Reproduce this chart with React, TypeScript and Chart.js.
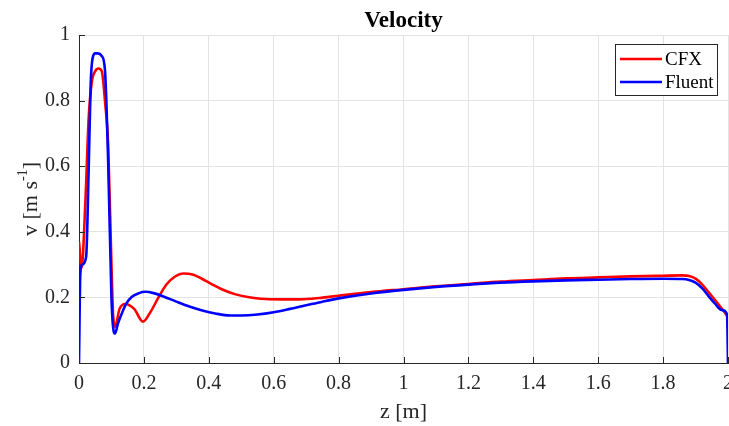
import React, { useEffect, useRef } from "react";
import { Chart, registerables } from "chart.js";

Chart.register(...registerables);

const TITLE = "Velocity";
const X_LABEL = "z [m]";
const Y_LABEL_MAIN = "v [m s";
const Y_LABEL_SUP = "-1";
const Y_LABEL_END = "]";

const X_TICKS = [0, 0.2, 0.4, 0.6, 0.8, 1, 1.2, 1.4, 1.6, 1.8, 2];
const Y_TICKS = [0, 0.2, 0.4, 0.6, 0.8, 1];

const CFX_LABEL = "CFX";
const CFX_Z = [0, 0.008, 0.02, 0.03, 0.04, 0.05, 0.06, 0.07, 0.08, 0.09, 0.1, 0.105, 0.111, 0.125, 0.142, 0.17, 0.197, 0.22, 0.245, 0.27, 0.295, 0.322, 0.35, 0.38, 0.41, 0.44, 0.48, 0.52, 0.56, 0.62, 0.68, 0.74, 0.8, 0.9, 1.0, 1.1, 1.2, 1.3, 1.4, 1.5, 1.6, 1.7, 1.8, 1.86, 1.88, 1.9, 1.92, 1.94, 1.96, 1.98, 1.993, 2.0];
const CFX_V = [0.37, 0.29, 0.5, 0.75, 0.86, 0.89, 0.898, 0.89, 0.8, 0.66, 0.3, 0.15, 0.11, 0.165, 0.18, 0.165, 0.126, 0.155, 0.2, 0.24, 0.263, 0.273, 0.27, 0.256, 0.24, 0.225, 0.21, 0.201, 0.196, 0.194, 0.194, 0.198, 0.205, 0.216, 0.225, 0.234, 0.241, 0.248, 0.253, 0.258, 0.261, 0.264, 0.266, 0.267, 0.265, 0.257, 0.24, 0.216, 0.192, 0.167, 0.15, 0.138];

const FLUENT_LABEL = "Fluent";
const FLUENT_Z = [0, 0.004, 0.01, 0.022, 0.03, 0.036, 0.042, 0.05, 0.058, 0.07, 0.08, 0.09, 0.1, 0.105, 0.111, 0.12, 0.132, 0.145, 0.163, 0.185, 0.204, 0.23, 0.26, 0.3, 0.34, 0.38, 0.42, 0.466, 0.5, 0.55, 0.6, 0.65, 0.7, 0.75, 0.8, 0.9, 1.0, 1.1, 1.2, 1.3, 1.4, 1.5, 1.6, 1.7, 1.8, 1.86, 1.88, 1.9, 1.92, 1.94, 1.96, 1.98, 1.997, 2.0];
const FLUENT_V = [0, 0.27, 0.3, 0.324, 0.6, 0.85, 0.93, 0.944, 0.944, 0.936, 0.893, 0.61, 0.2, 0.11, 0.09, 0.12, 0.151, 0.18, 0.202, 0.213, 0.217, 0.213, 0.203, 0.187, 0.172, 0.16, 0.151, 0.145, 0.145, 0.148, 0.155, 0.165, 0.176, 0.187, 0.197, 0.212, 0.223, 0.232, 0.239, 0.245, 0.249, 0.252, 0.254, 0.256, 0.257, 0.256, 0.253, 0.245, 0.228, 0.204, 0.181, 0.162, 0.149, 0];

const FONT = "'Liberation Serif', 'Times New Roman', serif";
const AXIS_COLOR = "#262626";
const GRID_COLOR = "#e3e3e3";

const decorPlugin = {
  id: "decor",
  afterDraw(chart: any) {
    const ctx = chart.ctx;
    const area = chart.chartArea;
    const xs = chart.scales.x;
    const ys = chart.scales.y;
    ctx.save();
    // inward ticks
    ctx.strokeStyle = AXIS_COLOR;
    ctx.lineWidth = 1;
    ctx.beginPath();
    X_TICKS.forEach((t) => {
      const px = Math.round(xs.getPixelForValue(t)) + 0.5;
      ctx.moveTo(px, area.bottom);
      ctx.lineTo(px, area.bottom - 6);
    });
    Y_TICKS.forEach((t) => {
      const py = Math.round(ys.getPixelForValue(t)) + 0.5;
      ctx.moveTo(area.left, py);
      ctx.lineTo(area.left + 6, py);
    });
    ctx.stroke();

    // title
    ctx.fillStyle = "#000";
    ctx.font = `bold 23px ${FONT}`;
    ctx.textAlign = "center";
    ctx.textBaseline = "alphabetic";
    ctx.fillText(TITLE, (area.left + area.right) / 2, 26.5);

    // x label
    ctx.fillStyle = "#262626";
    ctx.font = `22px ${FONT}`;
    ctx.fillText(X_LABEL, (area.left + area.right) / 2, 418);

    // y label with superscript
    ctx.save();
    ctx.translate(31, (area.top + area.bottom) / 2);
    ctx.rotate(-Math.PI / 2);
    ctx.font = `22px ${FONT}`;
    const w1 = ctx.measureText(Y_LABEL_MAIN).width;
    ctx.font = `14px ${FONT}`;
    const w2 = ctx.measureText(Y_LABEL_SUP).width;
    ctx.font = `22px ${FONT}`;
    const w3 = ctx.measureText(Y_LABEL_END).width;
    const total = w1 + w2 + w3;
    const x0 = -total / 2;
    ctx.textAlign = "left";
    ctx.textBaseline = "alphabetic";
    ctx.fillText(Y_LABEL_MAIN, x0, 6);
    ctx.font = `14px ${FONT}`;
    ctx.fillText(Y_LABEL_SUP, x0 + w1, -4);
    ctx.font = `22px ${FONT}`;
    ctx.fillText(Y_LABEL_END, x0 + w1 + w2, 6);
    ctx.restore();

    // legend
    const lx = 615, ly = 44, lw = 102, lh = 51;
    ctx.fillStyle = "#fff";
    ctx.fillRect(lx, ly, lw, lh);
    ctx.strokeStyle = AXIS_COLOR;
    ctx.lineWidth = 1;
    ctx.strokeRect(lx + 0.5, ly + 0.5, lw, lh);
    const items = chart.data.datasets.slice().sort((a: any, b: any) => a.legendIndex - b.legendIndex);
    items.forEach((ds: any, i: number) => {
      const yy = 59 + i * 23;
      ctx.strokeStyle = ds.borderColor;
      ctx.lineWidth = 2.5;
      ctx.beginPath();
      ctx.moveTo(620, yy);
      ctx.lineTo(662, yy);
      ctx.stroke();
      ctx.fillStyle = "#000";
      ctx.font = `19px ${FONT}`;
      ctx.textAlign = "left";
      ctx.textBaseline = "middle";
      ctx.fillText(ds.label, 665, yy + 1.5);
    });
    ctx.restore();
  },
};

export default function App() {
  const ref = useRef<HTMLCanvasElement>(null);
  useEffect(() => {
    if (!ref.current) return;
    const cfx = CFX_Z.map((z, i) => ({ x: z, y: CFX_V[i] }));
    const fl = FLUENT_Z.map((z, i) => ({ x: z, y: FLUENT_V[i] }));
    const chart = new Chart(ref.current, {
      type: "line",
      data: {
        datasets: [
          {
            label: CFX_LABEL,
            data: cfx,
            borderColor: "#ff0000",
            borderWidth: 2.6,
            pointRadius: 0,
            cubicInterpolationMode: "monotone",
            order: 1,
            legendIndex: 0,
          } as any,
          {
            label: FLUENT_LABEL,
            data: fl,
            borderColor: "#0000ff",
            borderWidth: 2.6,
            pointRadius: 0,
            cubicInterpolationMode: "monotone",
            order: 0,
            legendIndex: 1,
          } as any,
        ],
      },
      options: {
        responsive: false,
        animation: false,
        devicePixelRatio: 1,
        layout: { padding: { left: 0, right: 1, top: 35, bottom: 0 } },
        plugins: { legend: { display: false }, tooltip: { enabled: false }, title: { display: false } },
        scales: {
          x: {
            type: "linear",
            min: 0,
            max: 2,
            afterBuildTicks: (s: any) => { s.ticks = X_TICKS.map((v) => ({ value: v })); },
            afterFit: (s: any) => { s.height = 63; s.paddingLeft = 0; s.paddingRight = 0; },
            grid: { color: GRID_COLOR, drawTicks: false },
            border: { color: AXIS_COLOR, width: 1 },
            ticks: {
              color: "#262626",
              font: { family: FONT, size: 20 },
              padding: 9,
              maxRotation: 0,
              autoSkip: false,
              callback: (v: any) => String(v),
            },
          },
          y: {
            type: "linear",
            min: 0,
            max: 1,
            afterBuildTicks: (s: any) => { s.ticks = Y_TICKS.map((v) => ({ value: v })); },
            afterFit: (s: any) => { s.width = 79; s.paddingTop = 0; s.paddingBottom = 0; },
            grid: { color: GRID_COLOR, drawTicks: false },
            border: { color: AXIS_COLOR, width: 1 },
            ticks: {
              color: "#262626",
              font: { family: FONT, size: 20 },
              padding: 9,
              autoSkip: false,
              callback: (v: any) => String(v),
            },
          },
        },
      },
      plugins: [decorPlugin],
    });
    return () => chart.destroy();
  }, []);
  return (
    <div style={{ position: "absolute", left: 0, top: 0, width: 729, height: 426, background: "#fff" }}>
      <canvas ref={ref} width={729} height={426} style={{ display: "block", width: 729, height: 426 }} />
    </div>
  );
}
